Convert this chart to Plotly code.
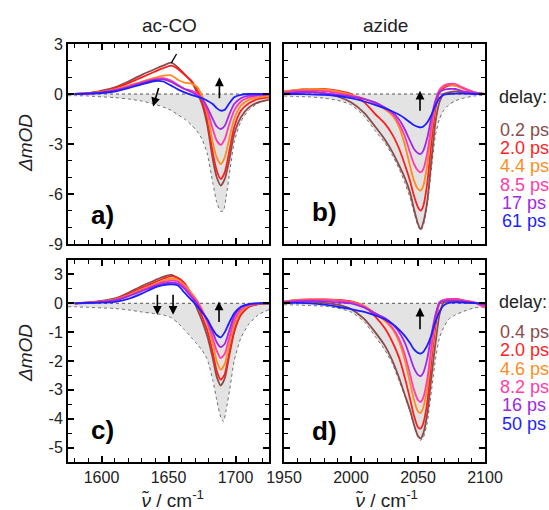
import plotly.graph_objects as go

# ---- wavenumber grids (cm^-1) ----
nu_co = [1580, 1590, 1600, 1610, 1620, 1630, 1640, 1646, 1652, 1657, 1662, 1667, 1671,
         1675, 1679, 1683, 1686, 1689, 1692, 1695, 1699, 1704, 1710, 1717, 1725]
nu_co_ftir = [1575, 1580, 1590, 1600, 1610, 1620, 1630, 1640, 1646, 1652, 1657, 1662, 1667,
              1671, 1675, 1679, 1683, 1686, 1689, 1691, 1693, 1696, 1699, 1704, 1710, 1717, 1725]
nu_az = [1950, 1960, 1970, 1980, 1990, 2000, 2010, 2018, 2025, 2031, 2036, 2040, 2044, 2047,
         2050, 2052, 2054, 2057, 2060, 2063, 2066, 2069, 2073, 2078, 2084, 2092, 2100]

# ---- delay labels ----
delays_top = ["0.2 ps", "2.0 ps", "4.4 ps", "8.5 ps", "17 ps", "61 ps"]
delays_bottom = ["0.4 ps", "2.0 ps", "4.6 ps", "8.2 ps", "16 ps", "50 ps"]

# ---- a) ac-CO, transient spectra (mOD) ----
a_02 = [0, 0.05, 0.2, 0.4, 0.75, 1.15, 1.5, 1.7, 1.88, 1.6, 1.2, 0.75, 0.15, -0.6, -1.9, -3.9,
        -5.0, -5.5, -5.1, -4.1, -2.4, -1.4, -0.8, -0.5, -0.35]
a_20 = [0, 0.05, 0.15, 0.35, 0.65, 1.0, 1.35, 1.55, 1.7, 1.5, 1.15, 0.8, 0.3, -0.4, -1.6, -3.5,
        -4.6, -5.1, -4.7, -3.6, -2.0, -1.0, -0.55, -0.3, -0.2]
a_44 = [0, 0.03, 0.12, 0.28, 0.5, 0.75, 0.98, 1.1, 1.12, 0.85, 0.68, 0.62, 0.45, -0.1, -1.2, -2.9,
        -3.8, -4.2, -3.8, -2.8, -1.5, -0.7, -0.35, -0.2, -0.12]
a_85 = [0, 0.03, 0.1, 0.25, 0.45, 0.7, 0.9, 0.95, 0.8, 0.55, 0.3, 0.2, 0.05, -0.3, -1.0, -2.1,
        -2.8, -3.05, -2.7, -1.9, -1.0, -0.45, -0.2, -0.1, -0.05]
a_17 = [0, 0.03, 0.1, 0.22, 0.42, 0.65, 0.85, 0.88, 0.72, 0.5, 0.3, 0.12, -0.05, -0.3, -0.8, -1.5,
        -1.95, -2.1, -1.9, -1.3, -0.6, -0.25, -0.1, -0.05, -0.02]
a_61 = [0, 0.02, 0.06, 0.15, 0.35, 0.58, 0.78, 0.75, 0.5, 0.28, 0.1, -0.05, -0.15, -0.25, -0.4, -0.6,
        -0.85, -1.0, -0.95, -0.6, -0.2, -0.05, 0, 0, 0]
ftir_a = [-0.1, -0.1, -0.12, -0.17, -0.22, -0.3, -0.42, -0.62, -0.78, -0.98, -1.25, -1.5, -1.85,
          -2.2, -2.7, -3.6, -5.3, -6.5, -7.05, -7.0, -6.2, -4.5, -2.9, -1.65, -0.95, -0.55, -0.3]

# ---- b) azide, transient spectra (mOD) ----
b_02 = [0.1, 0.15, 0.15, 0.05, -0.15, -0.5, -1.15, -1.95, -2.7, -3.5, -4.3, -5.0, -5.9, -6.9,
        -7.8, -8.1, -7.7, -6.4, -4.0, -1.7, -0.5, 0.0, 0.1, 0.15, 0.1, 0.05, 0]
b_20 = [0.15, 0.25, 0.3, 0.3, 0.2, 0.0, -0.5, -1.2, -1.75, -2.45, -3.3, -4.2, -5.2, -6.1,
        -6.8, -7.0, -6.7, -5.3, -2.9, -0.9, 0.1, 0.35, 0.5, 0.5, 0.35, 0.1, 0]
b_44 = [0.15, 0.25, 0.3, 0.28, 0.15, -0.05, -0.3, -0.6, -0.9, -1.3, -2.0, -3.0, -4.3, -5.2,
        -5.7, -5.8, -5.5, -4.2, -2.2, -0.6, 0.2, 0.45, 0.55, 0.5, 0.3, 0.1, 0]
b_85 = [0.1, 0.2, 0.2, 0.18, 0.05, -0.1, -0.3, -0.55, -0.85, -1.2, -1.8, -2.5, -3.5, -4.2,
        -4.6, -4.7, -4.5, -3.5, -1.9, -0.5, 0.25, 0.5, 0.6, 0.6, 0.35, 0.1, 0]
b_17 = [0.05, 0.1, 0.1, 0.05, -0.05, -0.15, -0.3, -0.5, -0.8, -1.1, -1.55, -2.1, -2.8, -3.3,
        -3.55, -3.6, -3.4, -2.6, -1.4, -0.4, 0.1, 0.25, 0.3, 0.3, 0.15, 0.05, 0]
b_61 = [0.0, 0.0, -0.02, -0.05, -0.12, -0.25, -0.45, -0.65, -0.85, -1.05, -1.25, -1.45, -1.7, -1.88,
        -1.97, -2.0, -1.95, -1.7, -1.25, -0.7, -0.25, -0.05, 0, 0.02, 0.02, 0, 0]
ftir_b = [-0.12, -0.15, -0.18, -0.25, -0.38, -0.65, -1.35, -2.2, -2.9, -3.7, -4.5, -5.3, -6.2, -7.1,
          -7.9, -8.2, -7.9, -6.6, -4.5, -2.5, -1.5, -1.0, -0.65, -0.4, -0.25, -0.12, -0.08]

# ---- c) ac-CO, second sample (mOD) ----
c_04 = [0, 0.1, 0.25, 0.5, 1.1, 1.8, 2.4, 2.75, 2.95, 2.6, 2.0, 0.85, -0.15, -0.6, -1.15, -1.9,
        -2.55, -2.85, -2.6, -1.9, -1.0, -0.4, -0.12, -0.03, 0]
c_20 = [0, 0.08, 0.2, 0.42, 0.95, 1.6, 2.2, 2.55, 2.8, 2.65, 2.1, 1.0, 0.1, -0.45, -0.95, -1.7,
        -2.35, -2.65, -2.45, -1.8, -0.95, -0.4, -0.12, -0.03, 0]
c_46 = [0, 0.07, 0.18, 0.38, 0.85, 1.45, 2.0, 2.35, 2.55, 2.45, 1.9, 1.1, 0.35, -0.2, -0.7, -1.4,
        -2.0, -2.3, -2.1, -1.5, -0.75, -0.3, -0.08, -0.02, 0]
c_82 = [0, 0.06, 0.16, 0.34, 0.8, 1.35, 1.9, 2.2, 2.35, 2.25, 1.7, 0.9, 0.25, -0.25, -0.65, -1.2,
        -1.65, -1.9, -1.75, -1.25, -0.6, -0.22, -0.06, 0, 0]
c_16 = [0, 0.05, 0.14, 0.3, 0.72, 1.25, 1.8, 2.05, 2.15, 2.05, 1.5, 0.65, 0.05, -0.3, -0.6, -1.0,
        -1.35, -1.52, -1.4, -1.0, -0.45, -0.15, -0.04, 0, 0]
c_50 = [0, 0.03, 0.06, 0.15, 0.45, 1.0, 1.65, 1.88, 1.98, 1.85, 1.1, 0.35, -0.08, -0.3, -0.55, -0.9,
        -1.1, -1.18, -1.0, -0.7, -0.35, -0.12, -0.03, 0, 0]
ftir_c = [-0.12, -0.12, -0.14, -0.16, -0.18, -0.23, -0.3, -0.36, -0.4, -0.5, -0.68, -0.92, -1.18,
          -1.4, -1.62, -1.95, -2.65, -3.35, -3.95, -4.1, -3.7, -2.9, -2.0, -1.2, -0.72, -0.4, -0.22]

# ---- d) azide, second sample (mOD) ----
d_04 = [0.1, 0.15, 0.15, 0.05, -0.05, -0.2, -0.55, -1.0, -1.45, -2.0, -2.6, -3.15, -3.7, -4.2,
        -4.6, -4.68, -4.5, -3.8, -2.55, -1.4, -0.4, 0.05, 0.15, 0.2, 0.1, 0.05, 0]
d_20 = [0.2, 0.35, 0.4, 0.4, 0.35, 0.2, -0.1, -0.45, -0.85, -1.35, -1.9, -2.55, -3.3, -3.9,
        -4.3, -4.34, -4.15, -3.4, -2.0, -0.8, 0.0, 0.3, 0.4, 0.45, 0.3, 0.1, -0.1]
d_46 = [0.2, 0.35, 0.4, 0.4, 0.3, 0.15, -0.1, -0.35, -0.6, -0.9, -1.35, -1.95, -2.75, -3.35,
        -3.75, -3.8, -3.6, -2.9, -1.7, -0.6, 0.05, 0.3, 0.4, 0.4, 0.25, 0.1, -0.05]
d_82 = [0.15, 0.3, 0.35, 0.35, 0.25, 0.1, -0.12, -0.35, -0.55, -0.85, -1.25, -1.75, -2.45, -3.0,
        -3.35, -3.42, -3.25, -2.6, -1.5, -0.5, 0.1, 0.35, 0.45, 0.45, 0.3, 0.1, -0.15]
d_16 = [0.1, 0.2, 0.25, 0.2, 0.1, 0.0, -0.15, -0.35, -0.5, -0.72, -1.0, -1.35, -1.85, -2.25,
        -2.48, -2.52, -2.4, -1.9, -1.1, -0.4, 0.05, 0.2, 0.3, 0.3, 0.2, 0.05, -0.05]
d_50 = [0.05, 0.05, 0.0, -0.05, -0.12, -0.2, -0.3, -0.42, -0.55, -0.72, -0.92, -1.12, -1.38, -1.6,
        -1.72, -1.74, -1.68, -1.45, -1.1, -0.65, -0.3, -0.08, 0.05, 0.1, 0.08, 0.02, 0]
ftir_d = [-0.05, -0.06, -0.08, -0.1, -0.17, -0.3, -0.65, -1.15, -1.6, -2.1, -2.7, -3.2, -3.75, -4.25,
          -4.65, -4.75, -4.65, -4.1, -3.05, -1.95, -1.2, -0.85, -0.55, -0.4, -0.28, -0.16, -0.12]

# ---- styling ----
colors = ["#8c4b4b", "#ff1e1e", "#ff8c1e", "#ff3caa", "#a028e6", "#1e1eff"]
FONT = "Liberation Sans, Arial, sans-serif"
W, H = 549, 510


def squash(vals):
    """Lower panels: positive signals are drawn on a 1/3 scale."""
    return [v / 3 if v > 0 else v for v in vals]


fig = go.Figure()

panels = [
    # xaxis, yaxis, grid, series, ftir grid, ftir, squash positive part
    ("x", "y", nu_co, [a_02, a_20, a_44, a_85, a_17, a_61], nu_co_ftir, ftir_a, False),
    ("x2", "y2", nu_az, [b_02, b_20, b_44, b_85, b_17, b_61], nu_az, ftir_b, False),
    ("x3", "y3", nu_co, [c_04, c_20, c_46, c_82, c_16, c_50], nu_co_ftir, ftir_c, True),
    ("x4", "y4", nu_az, [d_04, d_20, d_46, d_82, d_16, d_50], nu_az, ftir_d, True),
]

for xa, ya, grid, series, fgrid, ftir, sq in panels:
    tf = squash if sq else (lambda v: v)
    # steady-state absorption, inverted and shaded
    fig.add_trace(go.Scatter(
        x=fgrid, y=tf(ftir), xaxis=xa, yaxis=ya, mode="lines",
        line=dict(color="#6e6e6e", width=1, dash="dot", shape="spline", smoothing=0.6),
        fill="tozeroy", fillcolor="#e3e3e3", showlegend=False, hoverinfo="skip"))
    # zero line
    fig.add_trace(go.Scatter(
        x=[min(fgrid[0], grid[0]), grid[-1]], y=[0, 0],
        xaxis=xa, yaxis=ya, mode="lines",
        line=dict(color="#555555", width=1, dash="dot"), showlegend=False, hoverinfo="skip"))
    for vals, col in zip(series, colors):
        fig.add_trace(go.Scatter(
            x=grid, y=tf(vals), xaxis=xa, yaxis=ya, mode="lines",
            line=dict(color=col, width=1.8, shape="spline", smoothing=0.6),
            showlegend=False))

# ---- axes ----
tickfont = dict(family=FONT, size=16, color="#222222")
common = dict(showline=True, linecolor="black", linewidth=2, mirror="ticks",
              ticks="inside", ticklen=6, tickwidth=1.5, tickcolor="black",
              showgrid=False, zeroline=False, tickfont=tickfont, automargin=False)

xdom_l = [68 / W, 269 / W]
xdom_r = [284 / W, 485 / W]
ydom_t = [1 - 244 / H, 1 - 44 / H]
ydom_b = [1 - 462 / H, 1 - 260 / H]

x_co = dict(range=[1575, 1725], tickmode="linear", tick0=1600, dtick=50,
            minor=dict(ticks="inside", dtick=10, tick0=1600, ticklen=4, tickwidth=1.2, tickcolor="black"),
            **common)
x_az = dict(range=[1950, 2100], tickmode="linear", tick0=1950, dtick=50,
            minor=dict(ticks="inside", dtick=10, tick0=1950, ticklen=4, tickwidth=1.2, tickcolor="black"),
            **common)

y_top = dict(range=[-9, 3], tickmode="array", tickvals=[3, 0, -3, -6, -9],
             ticktext=["3", "0", "-3", "-6", "-9"],
             minor=dict(ticks="inside", dtick=1, tick0=0, ticklen=4, tickwidth=1.2, tickcolor="black"),
             **common)
y_bot = dict(range=[-5.5, 1.5], tickmode="array", tickvals=[1, 0, -1, -2, -3, -4, -5],
             ticktext=["3", "0", "-1", "-2", "-3", "-4", "-5"],
             minor=dict(ticks="inside", dtick=0.5, tick0=0, ticklen=4, tickwidth=1.2, tickcolor="black"),
             **common)

fig.update_layout(
    width=W, height=H,
    margin=dict(l=0, r=0, t=0, b=0, pad=0, autoexpand=False),
    paper_bgcolor="white", plot_bgcolor="white",
    font=dict(family=FONT, color="#222222"),
    xaxis=dict(domain=xdom_l, anchor="y", showticklabels=False, **x_co),
    yaxis=dict(domain=ydom_t, anchor="x", **y_top),
    xaxis2=dict(domain=xdom_r, anchor="y2", showticklabels=False, **x_az),
    yaxis2=dict(domain=ydom_t, anchor="x2", showticklabels=False, **y_top),
    xaxis3=dict(domain=xdom_l, anchor="y3", **x_co),
    yaxis3=dict(domain=ydom_b, anchor="x3", **y_bot),
    xaxis4=dict(domain=xdom_r, anchor="y4", **x_az),
    yaxis4=dict(domain=ydom_b, anchor="x4", showticklabels=False, **y_bot),
)


def px(xp, yp):
    return xp / W, 1 - yp / H


ann = []


def text(xp, yp, s, size, color="#222222", angle=0):
    x, y = px(xp, yp)
    ann.append(dict(x=x, y=y, xref="paper", yref="paper", text=s, showarrow=False,
                    font=dict(family=FONT, size=size, color=color), textangle=angle,
                    xanchor="center", yanchor="middle"))


# column titles
text(170, 25, "ac-CO", 19)
text(385, 25, "azide", 19)
# axis titles
text(25, 143, "<i>ΔmOD</i>", 19, angle=-90)
text(25, 353, "<i>ΔmOD</i>", 19, angle=-90)
text(172, 499, "<i>ν̃</i> / cm<sup>-1</sup>", 19)
text(386, 499, "<i>ν̃</i> / cm<sup>-1</sup>", 19)
# panel letters
for lab, xp, yp in [("a)", 102, 215), ("b)", 324, 212), ("c)", 102, 430), ("d)", 324, 431)]:
    text(xp, yp, f"<b>{lab}</b>", 26, color="black")
# delay legends
text(523, 97, "delay:", 18)
for i, (lab, col) in enumerate(zip(delays_top, colors)):
    text(524, 130 + i * 18.2, lab, 18, color=col)
text(523, 302, "delay:", 18)
for i, (lab, col) in enumerate(zip(delays_bottom, colors)):
    text(524, 332 + i * 18.3, lab, 18, color=col)


def arrow(xr, yr, x_tip, y_tip, x_tail, y_tail):
    ann.append(dict(x=x_tip, y=y_tip, ax=x_tail, ay=y_tail, xref=xr, yref=yr,
                    axref=xr, ayref=yr, showarrow=True, arrowhead=2, arrowsize=1.1,
                    arrowwidth=1.6, arrowcolor="black", text=""))


arrow("x", "y", 1688, 1.0, 1688, -0.35)
arrow("x", "y", 1638.5, -0.75, 1643, 0.45)
arrow("x2", "y2", 2051.5, 0.2, 2051.5, -1.1)
arrow("x3", "y3", 1641.7, -0.4, 1641.7, 0.35)
arrow("x3", "y3", 1653.4, -0.4, 1653.4, 0.35)
arrow("x3", "y3", 1687.7, 0.06, 1687.7, -0.7)
arrow("x4", "y4", 2051.5, -0.15, 2051.5, -0.95)

fig.update_layout(annotations=ann)
fig.add_shape(type="line", xref="x", yref="y", x0=1652, y0=1.85, x1=1656, y1=2.4,
              line=dict(color="black", width=1.3))

fig.write_html("out.html")
